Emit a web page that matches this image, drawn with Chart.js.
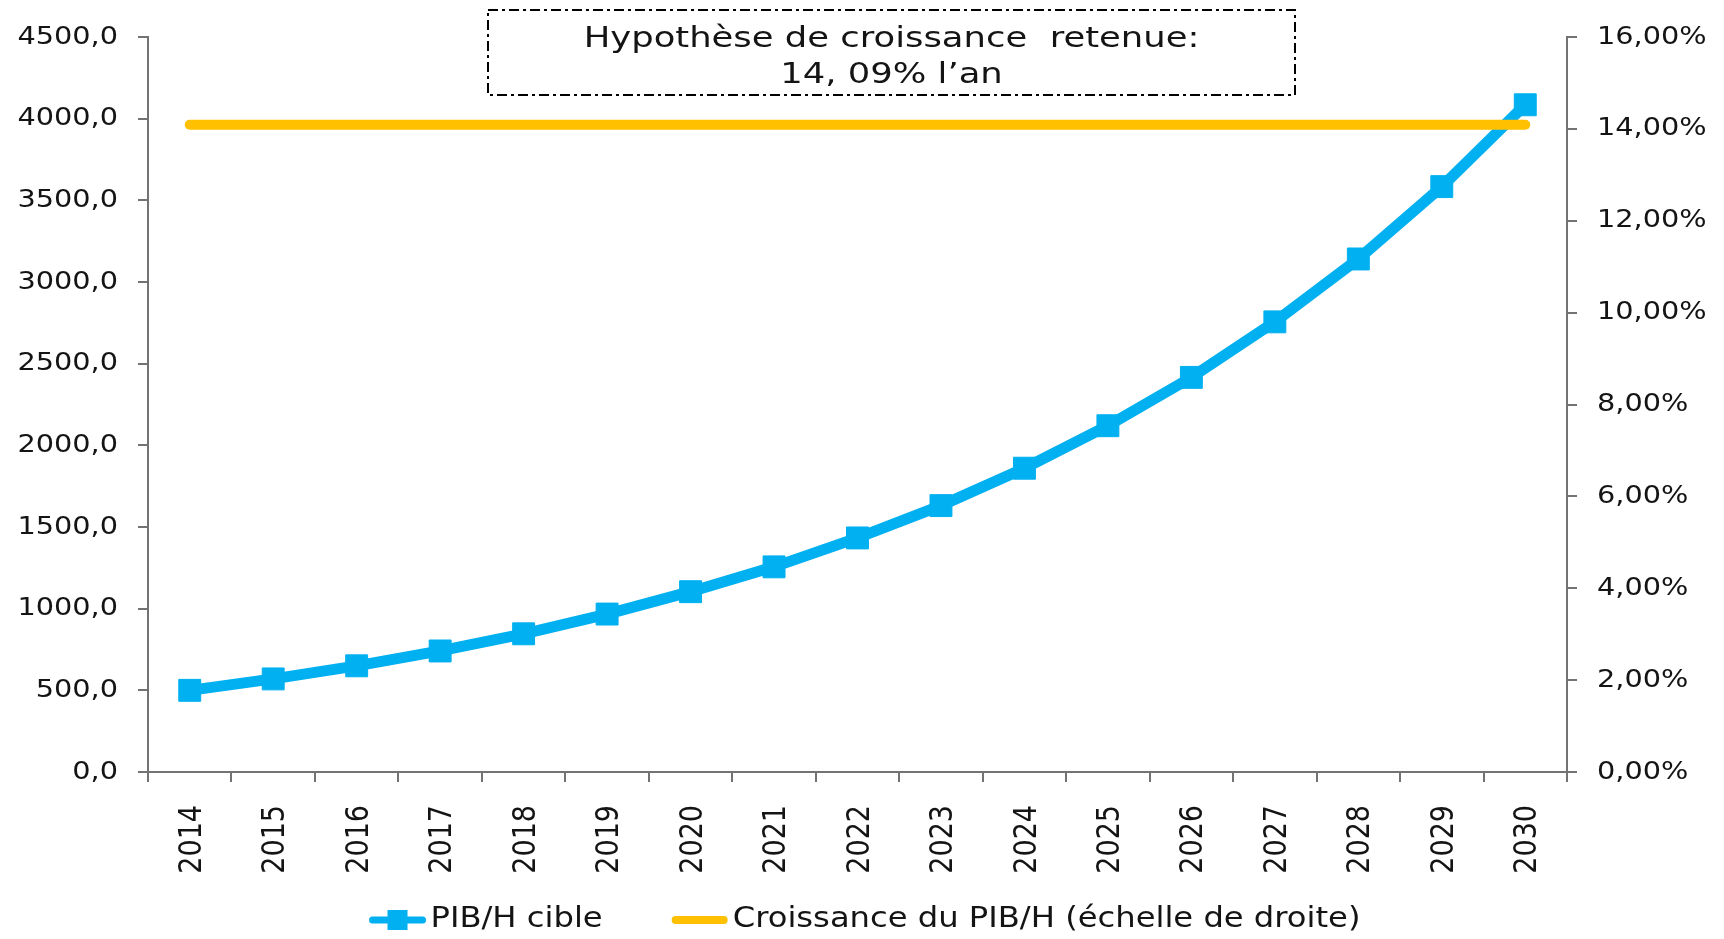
<!DOCTYPE html>
<html>
<head>
<meta charset="utf-8">
<script src="https://cdn.jsdelivr.net/npm/chart.js@4.4.1/dist/chart.umd.min.js"></script>
<style>
html,body{margin:0;padding:0;background:#ffffff;overflow:hidden}
#wrap{position:relative;width:1724px;height:939px}
</style>
</head>
<body>
<div id="wrap"><canvas id="c" width="1724" height="939"></canvas></div>
<script>
// ---------- DATA ----------
const years = ['2014','2015','2016','2017','2018','2019','2020','2021','2022','2023','2024','2025','2026','2027','2028','2029','2030'];
const pibCible = [500, 570, 650, 741, 846, 967, 1104, 1256, 1433, 1631, 1860, 2120, 2416, 2756, 3141, 3584, 4085];
const croissancePIB = [14.09, 14.09, 14.09, 14.09, 14.09, 14.09, 14.09, 14.09, 14.09, 14.09, 14.09, 14.09, 14.09, 14.09, 14.09, 14.09, 14.09];
const leftTickLabels = ['0,0','500,0','1000,0','1500,0','2000,0','2500,0','3000,0','3500,0','4000,0','4500,0'];
const rightTickLabels = ['0,00%','2,00%','4,00%','6,00%','8,00%','10,00%','12,00%','14,00%','16,00%'];
const seriesNames = ['PIB/H cible', 'Croissance du PIB/H (échelle de droite)'];
const noteLines = ['Hypothèse de croissance  retenue:', '14, 09% l\u2019an'];

// ---------- STYLE ----------
const BLUE = '#00b0f0';
const YELLOW = '#ffc000';
const AXIS = '#737373';
const TEXT = '#141414';
const FONT = '"DejaVu Sans", Verdana, sans-serif';

const canvas = document.getElementById('c');
const ctx2d = canvas.getContext('2d');

// horizontal text stretch (reference text is rendered wide)
let stretchX = 1.15;
const nativeFill = ctx2d.fillText;
ctx2d.fillText = function (t, x, y, mw) {
  const m = this.getTransform();
  const px = m.a * x + m.c * y + m.e;
  this.save();
  this.setTransform(stretchX, 0, 0, 1, px * (1 - stretchX), 0);
  this.transform(m.a, m.b, m.c, m.d, m.e, m.f);
  if (mw === undefined) nativeFill.call(this, t, x, y);
  else nativeFill.call(this, t, x, y, mw);
  this.restore();
};

const extras = {
  id: 'extras',
  afterDraw(chart) {
    const c = chart.ctx;
    // annotation box
    c.save();
    c.setLineDash([10, 4, 3, 4]);
    c.lineWidth = 2;
    c.strokeStyle = '#000';
    c.strokeRect(488, 10, 807, 85);
    c.setLineDash([]);
    c.fillStyle = TEXT;
    c.font = '29px ' + FONT;
    c.textAlign = 'center';
    c.textBaseline = 'alphabetic';
    stretchX = 1.22;
    c.fillText(noteLines[0], 891.5, 47);
    c.fillText(noteLines[1], 891.5, 83);
    c.restore();

    // legend
    c.save();
    stretchX = 1.15;
    c.font = '28px ' + FONT;
    c.textBaseline = 'middle';
    c.textAlign = 'left';
    const lineLen = 56, textGap = 5, itemGap = 69;
    const w1 = c.measureText(seriesNames[0]).width * stretchX;
    const w2 = c.measureText(seriesNames[1]).width * stretchX;
    const total = lineLen + textGap + w1 + itemGap + lineLen + textGap + w2;
    let x = 865 - total / 2;
    const y = 920;
    c.lineCap = 'round';
    c.strokeStyle = BLUE;
    c.lineWidth = 7;
    c.beginPath(); c.moveTo(x + 3, y); c.lineTo(x + lineLen - 3, y); c.stroke();
    c.fillStyle = BLUE;
    c.fillRect(x + lineLen / 2 - 10, y - 10, 20, 20);
    c.fillStyle = TEXT;
    c.fillText(seriesNames[0], x + lineLen + textGap, y);
    x += lineLen + textGap + w1 + itemGap;
    c.strokeStyle = YELLOW;
    c.lineWidth = 8;
    c.beginPath(); c.moveTo(x + 4, y); c.lineTo(x + lineLen - 4, y); c.stroke();
    c.fillStyle = TEXT;
    c.fillText(seriesNames[1], x + lineLen + textGap, y);
    c.restore();
    stretchX = 1.15;
  }
};

new Chart(ctx2d, {
  type: 'line',
  data: {
    labels: years,
    datasets: [
      {
        label: seriesNames[0],
        data: pibCible,
        yAxisID: 'y',
        borderColor: BLUE,
        backgroundColor: BLUE,
        borderWidth: 11,
        pointStyle: 'rect',
        pointRadius: 15.5,
        pointBorderWidth: 1,
        pointBorderColor: BLUE,
        pointBackgroundColor: BLUE,
        tension: 0,
        order: 1
      },
      {
        label: seriesNames[1],
        data: croissancePIB,
        yAxisID: 'y1',
        borderColor: YELLOW,
        backgroundColor: YELLOW,
        borderWidth: 10,
        borderCapStyle: 'round',
        pointRadius: 0,
        tension: 0,
        order: 0
      }
    ]
  },
  options: {
    responsive: false,
    animation: false,
    devicePixelRatio: 1,
    layout: { padding: { top: 37, left: 0, right: 0, bottom: 0 } },
    plugins: { legend: { display: false }, tooltip: { enabled: false }, title: { display: false } },
    scales: {
      x: {
        offset: true,
        grid: { drawOnChartArea: false, offset: true, color: AXIS, lineWidth: 2, tickLength: 10 },
        border: { color: AXIS, width: 2 },
        ticks: { autoSkip: false, maxRotation: 90, minRotation: 90, padding: 23, labelOffset: 3, color: TEXT, font: { family: FONT, size: 27 } },
        afterFit(s) { s.height = 167; }
      },
      y: {
        position: 'left',
        min: 0, max: 4500,
        ticks: { stepSize: 500, padding: 20, color: TEXT, font: { family: FONT, size: 25 },
          callback: (v, i) => leftTickLabels[i] },
        grid: { drawOnChartArea: false, color: AXIS, lineWidth: 2, tickLength: 10 },
        border: { color: AXIS, width: 2 },
        afterFit(s) { s.width = 148; }
      },
      y1: {
        position: 'right',
        min: 0, max: 16,
        ticks: { stepSize: 2, padding: 20, color: TEXT, font: { family: FONT, size: 25 },
          callback: (v, i) => rightTickLabels[i] },
        grid: { drawOnChartArea: false, color: AXIS, lineWidth: 2, tickLength: 10 },
        border: { color: AXIS, width: 2 },
        afterFit(s) { s.width = 157; }
      }
    }
  },
  plugins: [extras]
});
</script>
</body>
</html>
